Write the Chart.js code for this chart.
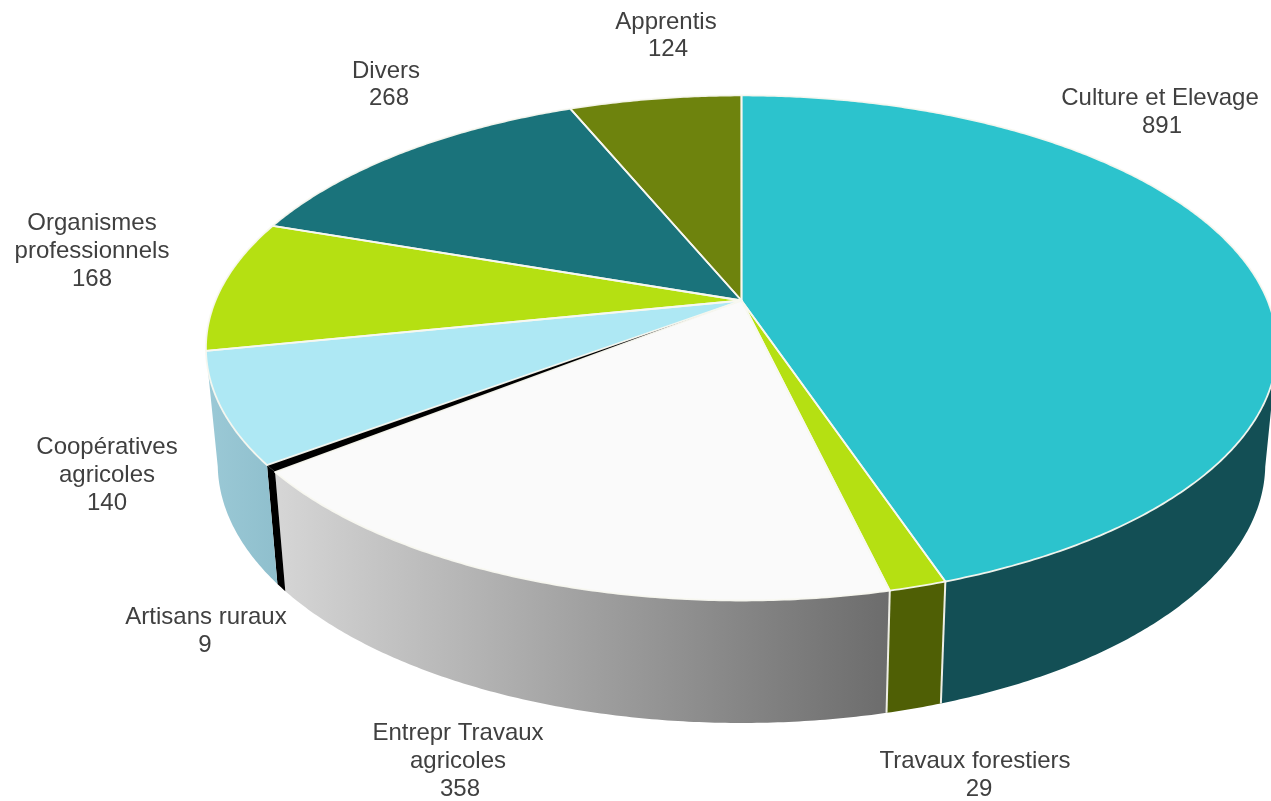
<!DOCTYPE html>
<html><head><meta charset="utf-8">
<style>html,body{margin:0;padding:0;background:#fff;overflow:hidden}canvas{display:block}</style>
<script src="https://cdn.jsdelivr.net/npm/chart.js@4"></script>
</head><body><canvas id="c" width="1271" height="801"></canvas>
<script>
const categories = [["Culture et Elevage"],["Travaux forestiers"],["Entrepr Travaux","agricoles"],["Artisans ruraux"],["Coopératives","agricoles"],["Organismes","professionnels"],["Divers"],["Apprentis"]];
const values = [891,29,358,9,140,168,268,124];
const topColors = ["#2cc3cd","#b5e012","#fafafa","#000000","#aee8f4","#b5e012","#1a737b","#6e830d"];
const wallFrom = ["#134f55","#4f5f05","#d6d6d6","#000000","#9bc9d6","#5b7009","#0d3a3e","#374106"];
const wallTo   = ["#134f55","#4f5f05","#6c6c6c","#000000","#8fbfcd","#5b7009","#0d3a3e","#374106"];
const labelCenters = [[1160,98],[975,761],[458,733],[206,617],[107,447],[92,223],[386,71],[666,22]];
const valueCenters = [[1162,126],[979,789],[460,789],[205,645],[107,503],[92,279],[389,98],[668,49]];

const P = {cx:741.5, cy:300.5, a:243.6, b:526, k:0.188, s:0.978, depth:119, slope:0.026, edge:0.2};
function rimTop(t){const x=Math.cos(t),y=Math.sin(t),d=1-P.k*y;return [P.cx+P.b*x/d,P.cy+P.a*y/d];}
function rimLow(t){const [X,Y]=rimTop(t);return [P.cx+(X-P.cx)*P.s,Y+P.depth+(Y-467)*P.slope];}
function arcPts(f,a,b){const n=Math.max(2,Math.ceil(Math.abs(b-a)*120)),r=[];for(let i=0;i<=n;i++)r.push(f(a+(b-a)*i/n));return r;}
function trace(ctx,pts,first){pts.forEach((p,i)=>{(i===0&&first)?ctx.moveTo(p[0],p[1]):ctx.lineTo(p[0],p[1]);});}

const pie3d = {
  id:'pie3d',
  beforeDatasetDraw(chart,args){
    const ctx=chart.ctx, arcs=chart.getDatasetMeta(0).data;
    ctx.save(); ctx.lineJoin='round';
    // side walls, limited to the front half between the two silhouette tangents
    arcs.forEach((el,i)=>{
      const a=Math.max(el.startAngle,P.edge),b=Math.min(el.endAngle,Math.PI-P.edge);
      if(a>=b)return;
      const up=arcPts(rimTop,a,b), dn=arcPts(rimLow,b,a);
      const xs=up.concat(dn).map(p=>p[0]);
      const g=ctx.createLinearGradient(Math.min(...xs),0,Math.max(...xs),0);
      g.addColorStop(0,wallFrom[i]);g.addColorStop(1,wallTo[i]);
      ctx.beginPath();trace(ctx,up,true);trace(ctx,dn,false);ctx.closePath();
      ctx.fillStyle=g;ctx.fill();
    });
    // light edges between wall sections
    arcs.forEach((el,i)=>{
      const t=el.startAngle, s=Math.sin(t);
      if(s<0.3||i===3||i===4)return;
      const p=rimTop(t),q=rimLow(t);
      ctx.beginPath();ctx.moveTo(p[0],p[1]);ctx.lineTo(q[0],q[1]);
      ctx.strokeStyle='#eeeee6';ctx.lineWidth=2;ctx.stroke();
    });
    // top face
    arcs.forEach((el,i)=>{
      ctx.beginPath();ctx.moveTo(P.cx,P.cy);trace(ctx,arcPts(rimTop,el.startAngle,el.endAngle),false);ctx.closePath();
      ctx.fillStyle=topColors[i];ctx.fill();
    });
    arcs.forEach((el,i)=>{
      if(i===3)return;
      ctx.beginPath();ctx.moveTo(P.cx,P.cy);trace(ctx,arcPts(rimTop,el.startAngle,el.endAngle),false);ctx.closePath();
      ctx.strokeStyle='rgba(248,248,240,0.95)';ctx.lineWidth=1.8;ctx.stroke();
    });
    // labels
    ctx.font='24px "Liberation Sans", Arial, sans-serif';ctx.fillStyle='#404040';ctx.textAlign='center';ctx.textBaseline='middle';
    categories.forEach((lines,i)=>{
      lines.forEach((l,j)=>ctx.fillText(l,labelCenters[i][0],labelCenters[i][1]+28*j));
      ctx.fillText(String(values[i]),valueCenters[i][0],valueCenters[i][1]);
    });
    ctx.restore();
    return false;
  }
};
new Chart(document.getElementById('c'),{
  type:'pie',
  data:{labels:categories.map(l=>l.join(' ')),datasets:[{data:values,backgroundColor:topColors}]},
  options:{responsive:false,devicePixelRatio:1,animation:false,rotation:0,
    plugins:{legend:{display:false},tooltip:{enabled:false}}},
  plugins:[pie3d]
});
</script></body></html>
